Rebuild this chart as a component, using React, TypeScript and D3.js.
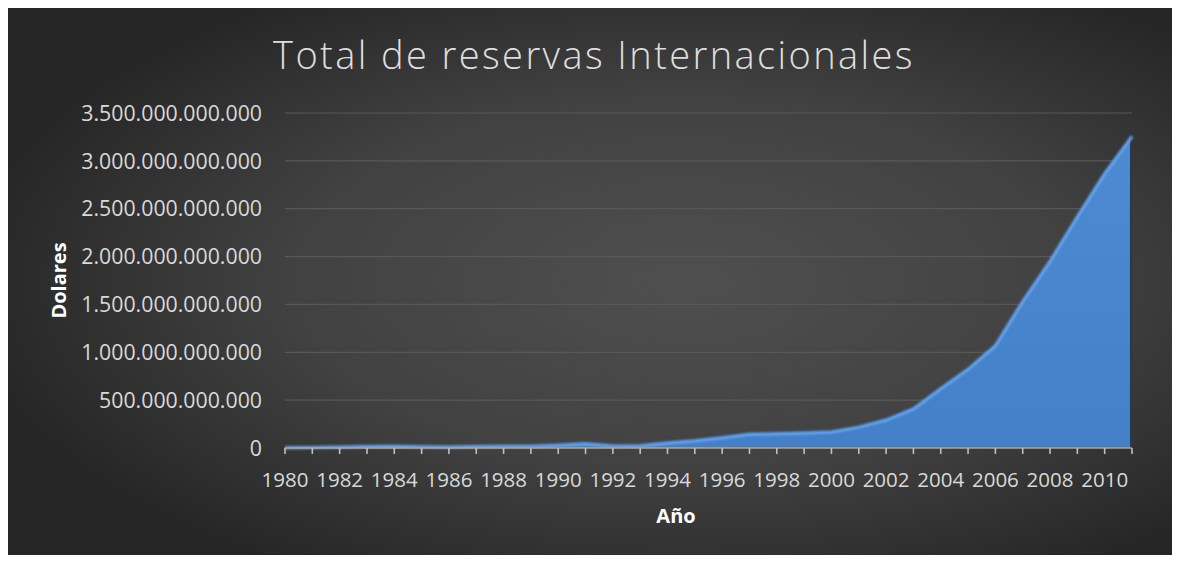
import React from 'react';
import * as d3 from 'd3';

// China, total reserves incl. gold (US$)
const years = [
  1980, 1981, 1982, 1983, 1984, 1985, 1986, 1987, 1988, 1989, 1990, 1991, 1992, 1993, 1994, 1995,
  1996, 1997, 1998, 1999, 2000, 2001, 2002, 2003, 2004, 2005, 2006, 2007, 2008, 2009, 2010, 2011,
];
const reserves = [
  2.5e9, 5.1e9, 11.3e9, 14.9e9, 17.4e9, 12.7e9, 11.5e9, 16.3e9, 18.5e9, 17.9e9, 29.6e9, 43.7e9,
  20.6e9, 22.4e9, 52.9e9, 75.4e9, 107e9, 143e9, 149e9, 158e9, 168e9, 218e9, 292e9, 409e9,
  619e9, 822e9, 1069e9, 1531e9, 1950e9, 2416e9, 2866e9, 3255e9,
];
const yTicks = [0, 5e11, 1e12, 1.5e12, 2e12, 2.5e12, 3e12, 3.5e12];
const xLabelYears = years.filter((y) => (y - 1980) % 2 === 0);

const W = 1164;
const H = 547;
const FONT = "'Open Sans', 'Noto Sans', sans-serif";

const fmt = (v: number) => (v === 0 ? '0' : d3.format(',.0f')(v).replace(/,/g, '.'));

export default function App() {
  const left = 277;
  const right = 1124;
  const top = 105;
  const bottom = 440;

  const x = d3.scaleLinear().domain([1980, 2011]).range([left, right]);
  const y = d3.scaleLinear().domain([0, 3.5e12]).range([bottom, top]);

  const data = years.map((yr, i) => ({ yr, v: reserves[i] }));
  const area = d3
    .area<{ yr: number; v: number }>()
    .x((d) => x(d.yr))
    .y0(y(0))
    .y1((d) => y(d.v));
  const topLine = d3
    .line<{ yr: number; v: number }>()
    .x((d) => x(d.yr))
    .y((d) => y(d.v));

  return (
    <svg width={W} height={H} style={{ display: 'block' }}>
      <defs>
        <radialGradient id="bg" cx="0.58" cy="0.5" r="0.62">
          <stop offset="0" stopColor="#4f4f4f" />
          <stop offset="0.55" stopColor="#414141" />
          <stop offset="1" stopColor="#262626" />
        </radialGradient>
        <linearGradient id="fill" x1="0" y1="0" x2="0" y2="1">
          <stop offset="0" stopColor="#4d8ad2" />
          <stop offset="1" stopColor="#4380c8" />
        </linearGradient>
        <filter id="soft" x="-5%" y="-5%" width="110%" height="110%">
          <feGaussianBlur stdDeviation="1.2" />
        </filter>
      </defs>
      <rect width={W} height={H} fill="url(#bg)" />

      <text
        x={586}
        y={61}
        textAnchor="middle"
        fill="#dedede"
        fontFamily={FONT}
        fontWeight={300}
        fontSize={38}
        letterSpacing={2.4}
      >
        Total de reservas Internacionales
      </text>

      {yTicks.map((t) => (
        <g key={t}>
          {t > 0 && (
            <line x1={left} x2={right} y1={y(t)} y2={y(t)} stroke="#585858" strokeWidth={1.2} />
          )}
          <text
            x={254}
            y={y(t)}
            dy="0.36em"
            textAnchor="end"
            fill="#d9d9d9"
            fontFamily={FONT}
            fontSize={21.3}
          >
            {fmt(t)}
          </text>
        </g>
      ))}

      <path d={area(data) || ''} fill="url(#fill)" />
      <line x1={right - 1} x2={right - 1} y1={y(reserves[reserves.length - 1])} y2={bottom} stroke="#223a5a" strokeWidth={2} />
      <path d={topLine(data) || ''} fill="none" stroke="#6aa6ee" strokeWidth={3} filter="url(#soft)" />

      <line x1={left} x2={right} y1={bottom} y2={bottom} stroke="#a6a6a6" strokeWidth={1.5} />
      {years.map((yr) => (
        <line key={yr} x1={x(yr)} x2={x(yr)} y1={bottom} y2={bottom + 6} stroke="#bfbfbf" strokeWidth={1.6} />
      ))}
      {xLabelYears.map((yr) => (
        <text
          key={yr}
          x={x(yr)}
          y={479}
          textAnchor="middle"
          fill="#d9d9d9"
          fontFamily={FONT}
          fontSize={20.5}
        >
          {yr}
        </text>
      ))}

      <text
        x={668}
        y={515}
        textAnchor="middle"
        fill="#ffffff"
        fontFamily={FONT}
        fontWeight={700}
        fontSize={20}
      >
        Año
      </text>
      <text
        transform={`translate(58,${(top + bottom) / 2}) rotate(-90)`}
        textAnchor="middle"
        fill="#ffffff"
        fontFamily={FONT}
        fontWeight={700}
        fontSize={20}
      >
        Dolares
      </text>
    </svg>
  );
}
